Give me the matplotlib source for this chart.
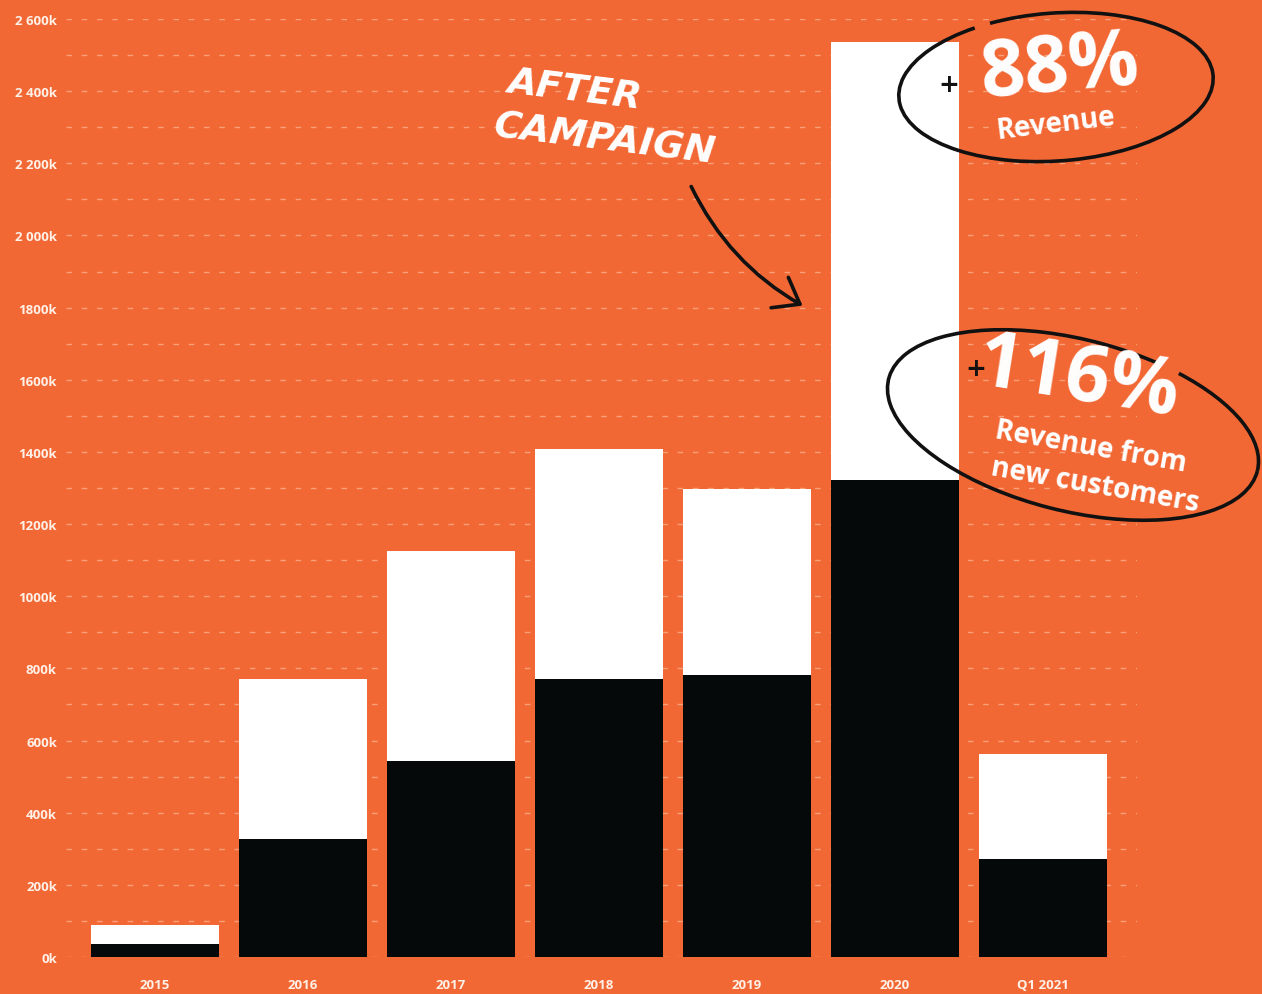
import matplotlib
matplotlib.use("Agg")
import matplotlib.pyplot as plt
from matplotlib.patches import Arc

# ---- data (thousands) ----
categories = ["2015", "2016", "2017", "2018", "2019", "2020", "Q1 2021"]
new_customers = [36, 327, 543, 770, 782, 1322, 272]
total_revenue = [90, 770, 1125, 1408, 1297, 2536, 563]
existing = [t - n for t, n in zip(total_revenue, new_customers)]
ytick_values = [0, 200, 400, 600, 800, 1000, 1200, 1400, 1600, 1800, 2000, 2200, 2400, 2600]
ytick_labels = ["0k", "200k", "400k", "600k", "800k", "1000k", "1200k", "1400k",
                "1600k", "1800k", "2 000k", "2 200k", "2 400k", "2 600k"]
minor_values = [100, 300, 500, 700, 900, 1100, 1300, 1500, 1700, 1900, 2100, 2300, 2500]

ORANGE = "#F26835"
BLACK = "#050909"
WHITE = "#FFFFFF"
GRID = "#F7A07A"
LABEL = "#FFF1E8"

W, H = 1262, 995
fig = plt.figure(figsize=(W / 100, H / 100), dpi=100, facecolor=ORANGE)
ax = fig.add_axes([66 / W, 37 / H, (1137 - 66) / W, (958 - 20) / H])
ax.set_facecolor(ORANGE)

x = list(range(len(categories)))
ax.bar(x, new_customers, width=0.865, color=BLACK, zorder=3)
ax.bar(x, existing, bottom=new_customers, width=0.865, color=WHITE, zorder=3)

ax.set_xlim(-0.601, 6.635)
ax.set_ylim(0, 2600)
ax.set_yticks(ytick_values)
ax.set_yticklabels(ytick_labels)
ax.set_yticks(minor_values, minor=True)
ax.grid(axis="y", which="both", color=GRID, linestyle=(0, (4, 7)), linewidth=1.0, zorder=0)
ax.set_axisbelow(True)
ax.set_xticks(x)
ax.set_xticklabels(categories)
for s in ax.spines.values():
    s.set_visible(False)
ax.tick_params(axis="both", which="both", length=0)
ax.tick_params(axis="y", pad=6.5, labelsize=9.5, labelcolor=LABEL)
ax.tick_params(axis="x", pad=15, labelsize=9.5, labelcolor=LABEL)
for lab in ax.get_xticklabels() + ax.get_yticklabels():
    lab.set_fontfamily("Open Sans")
    lab.set_fontweight("bold")

# ---- annotation overlay (pixel coordinates, y up) ----
ov = fig.add_axes([0, 0, 1, 1], zorder=10)
ov.set_xlim(0, W)
ov.set_ylim(0, H)
ov.axis("off")
ov.patch.set_visible(False)

hand = dict(family="DejaVu Sans", weight="bold", style="oblique", color=WHITE)
ov.text(575, H - 90, "AFTER", fontsize=27, rotation=-7, ha="center", va="center", **hand)
ov.text(605, H - 140, "CAMPAIGN", fontsize=27, rotation=-7, ha="center", va="center", **hand)

ov.annotate("", xy=(805, H - 308), xytext=(690, H - 185),
            arrowprops=dict(arrowstyle="->,head_length=0.6,head_width=0.45",
                            connectionstyle="arc3,rad=0.16", lw=2.6, color="#111111",
                            mutation_scale=28))

big = dict(family="Open Sans", weight="bold", style="normal", color=WHITE,
           ha="center", va="center")
ov.text(1060, H - 70, "88%", fontsize=56, rotation=5, **big)
ov.text(1056, H - 124, "Revenue", fontsize=20, rotation=7, **big)
ov.text(949, H - 85, "+", fontsize=18, weight="bold", color="#111111", ha="center", va="center")
ov.add_patch(Arc((1056, H - 88), 315, 148, angle=4, theta1=140, theta2=492,
                 color="#111111", lw=2.6))

ov.text(1078, H - 380, "116%", fontsize=56, rotation=-9, **big)
ov.text(976, H - 369, "+", fontsize=18, weight="bold", color="#111111", ha="center", va="center")
ov.text(1091, H - 447, "Revenue from", fontsize=20, rotation=-10, **big)
ov.text(1095, H - 486, "new customers", fontsize=20, rotation=-10, **big)
ov.add_patch(Arc((1073, H - 426), 380, 172, angle=-14, theta1=50, theta2=360,
                 color="#111111", lw=2.6))
ov.add_patch(Arc((1073, H - 426), 380, 172, angle=-14, theta1=0, theta2=40,
                 color="#111111", lw=2.6))

fig.savefig("out.png", dpi=100, facecolor=ORANGE)
